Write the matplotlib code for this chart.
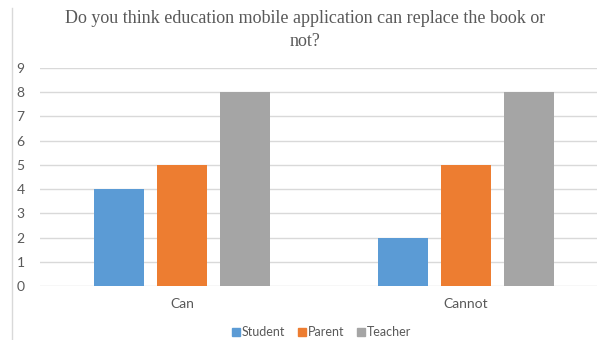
import matplotlib
matplotlib.use("Agg")
from matplotlib import pyplot as plt
from matplotlib.lines import Line2D
import numpy as np

categories = ["Can", "Cannot"]
series_names = ["Student", "Parent", "Teacher"]
student = [4, 2]
parent = [5, 5]
teacher = [8, 8]
y_ticks = list(range(0, 10))

colors = ["#5B9BD5", "#ED7D31", "#A5A5A5"]
W, H = 597, 340
sans = ["Lato", "DejaVu Sans"]

fig = plt.figure(figsize=(W / 100, H / 100), dpi=100)
# plot area runs past the right edge (chart is cropped in the reference)
ax = fig.add_axes([40 / W, 54 / H, 568 / W, 218 / H])

x = np.arange(len(categories))
offsets = [-0.222, 0.0, 0.222]
width = 0.173
for vals, off, col in zip([student, parent, teacher], offsets, colors):
    ax.bar(x + off, vals, width, color=col, zorder=3)

ax.set_xlim(-0.5, 1.5)
ax.set_ylim(0, 9)
ax.set_yticks(y_ticks)
ax.set_xticks(x)
ax.set_xticklabels(categories)
ax.yaxis.grid(True, color="#D9D9D9", linewidth=1.0, zorder=0)
ax.tick_params(axis="both", length=0, colors="#595959", labelsize=10,
               labelfontfamily=sans)
ax.tick_params(axis="y", pad=11)
ax.tick_params(axis="x", pad=9)
for s in ax.spines.values():
    s.set_visible(False)

fig.text(305 / W, 1 - 30 / H,
         "Do you think education mobile application can replace the book or\nnot?",
         ha="center", va="center", fontsize=13, family="Liberation Serif",
         color="#595959", linespacing=1.5)

# thin border on the left side of the chart frame
fig.add_artist(Line2D([11.5 / W, 11.5 / W], [0, 1 - 8 / H],
                      transform=fig.transFigure, color="#D9D9D9", linewidth=1))

handles = [Line2D([], [], marker="s", linestyle="none", markersize=6,
                  color=c) for c in colors]
leg = fig.legend(handles, series_names, loc="center", bbox_to_anchor=(321 / W, 8 / H),
                 ncol=3, frameon=False, prop={"family": sans, "size": 9},
                 handletextpad=0.0, columnspacing=0.9, handlelength=0.9)
for t in leg.get_texts():
    t.set_color("#595959")

fig.savefig("out.png", dpi=100)
